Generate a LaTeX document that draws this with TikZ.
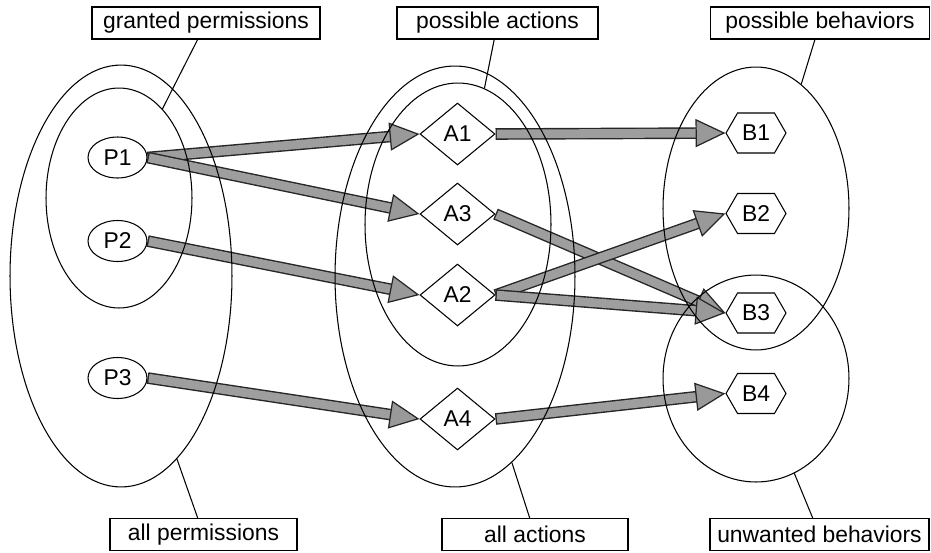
\documentclass[tikz,border=0pt]{standalone}
\usepackage{fontspec}
\setmainfont{Liberation Sans}
\usepackage{tikz}
\usetikzlibrary{shapes,shapes.geometric,shapes.symbols,arrows.meta}
\tikzstyle{perm}=[ellipse,draw,fill=white,minimum width=1.18cm,minimum height=0.82cm,inner sep=0pt]
\tikzstyle{act}=[diamond,draw,fill=white,aspect=1.2,minimum width=1.5cm,minimum height=1.24cm,inner sep=0pt]
\tikzstyle{beh}=[signal,signal to=west and east,signal pointer angle=120,draw,fill=white,minimum width=1.2cm,minimum height=0.8cm,inner sep=0pt]
\tikzstyle{region}=[ellipse,draw,inner sep=0pt]
\tikzstyle{tagbox}=[draw,fill=white,minimum height=0.64cm,inner sep=0pt]
\tikzstyle{flowout}=[line width=6.6pt,black!85,shorten >=14pt]
\tikzstyle{flowin}=[line width=5pt,draw=black!38,shorten <=0.8pt,-{Triangle[length=17pt,width=16pt,line width=0.7pt,color=black!85,fill=black!40]}]
\newcommand{\FatEdge}[2]{%
  \draw[flowout] (#1) -- (#2);
  \draw[flowin] (#1) -- (#2);}

\begin{document}
\begin{tikzpicture}[x=0.02cm,y=-0.02cm,line width=0.6pt,font=\fontsize{13}{15}\selectfont]
    \useasboundingbox (0,0) rectangle (931,552);
    \node[perm] (P1) at (117.5,157.5) {P1};
    \node[perm] (P2) at (117.5,241)   {P2};
    \node[perm] (P3) at (117.5,378)   {P3};
    \node[act] (A1) at (457.5,134) {A1};
    \node[act] (A3) at (457.5,214) {A3};
    \node[act] (A2) at (457.5,295) {A2};
    \node[act] (A4) at (457.5,419) {A4};
    \node[beh] (B1) at (756,133)   {B1};
    \node[beh] (B2) at (756,213.5) {B2};
    \node[beh] (B3) at (756,313)   {B3};
    \node[beh] (B4) at (756,393.5) {B4};
	 \FatEdge{P1.east}{A1.west}
	 \FatEdge{P1.east}{A3.west}
	 \FatEdge{P2.east}{A2.west}
	 \FatEdge{P3.east}{A4.west}
	 \FatEdge{A1.east}{B1.west}
	 \FatEdge{A3.east}{B3.west}
	 \FatEdge{A2.east}{B2.west}
	 \FatEdge{A2.east}{B3.west}
	 \FatEdge{A4.east}{B4.west}
    \node[region,minimum width=4.44cm,minimum height=8.44cm] (allperm) at (121,276) {};
    \node[region,minimum width=2.92cm,minimum height=4.4cm] (grantperm) at (119,198) {};
    \node[region,minimum width=4.8cm,minimum height=8.42cm] (allact) at (455,276.5) {};
    \node[region,minimum width=3.72cm,minimum height=5.66cm] (possact) at (458,224.5) {};
    \node[region,minimum width=3.72cm,minimum height=5.66cm] (possbeh) at (756,208.5) {};
    \node[region,minimum width=3.72cm,minimum height=4.14cm] (unwbeh) at (756,378.5) {};
    \node[tagbox,minimum width=4.56cm] (tgrant) at (206,23)    {granted permissions};
    \node[tagbox,minimum width=4.02cm] (tpact)  at (497.5,23)  {possible actions};
    \node[tagbox,minimum width=4.38cm] (tpbeh)  at (820,23)    {possible behaviors};
    \node[tagbox,minimum width=3.74cm] (tall)   at (203.5,534.5) {all permissions};
    \node[tagbox,minimum width=3.72cm] (tallact) at (535,534.5) {all actions};
    \node[tagbox,minimum width=4.38cm] (tunw)   at (819.5,534.5) {unwanted behaviors};
    \draw (tgrant) -- (grantperm.64.5);
    \draw (tpact) -- (possact.79.4);
    \draw (tpbeh) -- (possbeh.70.3);
    \draw (tall) -- (allperm.-73);
    \draw (tallact) -- (allact.-73);
    \draw (tunw) -- (unwbeh.-68);
\end{tikzpicture}
\end{document}
